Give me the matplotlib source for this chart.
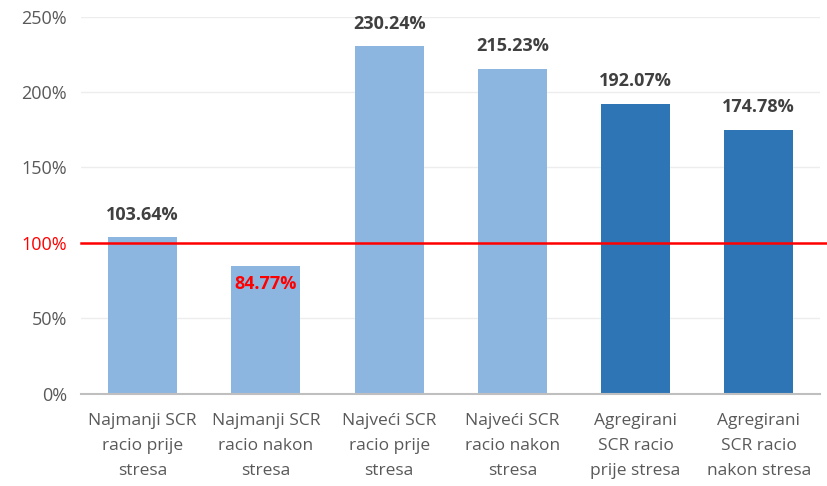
import matplotlib.pyplot as plt
import numpy as np

# Chart data
categories = ['Najmanji SCR\nracio prije\nstresa', 'Najmanji SCR\nracio nakon\nstresa',
              'Najveći SCR\nracio prije\nstresa', 'Najveći SCR\nracio nakon\nstresa',
              'Agregirani\nSCR racio\nprije stresa', 'Agregirani\nSCR racio\nnakon stresa']
values = [103.64, 84.77, 230.24, 215.23, 192.07, 174.78]
yticks = [0, 50, 100, 150, 200, 250]
threshold = 100

light = '#8CB6E0'
dark = '#2E75B6'
colors = [light, light, light, light, dark, dark]

plt.rcParams['font.family'] = ['Open Sans', 'DejaVu Sans']

fig = plt.figure(figsize=(8.27, 4.86), dpi=100)
ax = fig.add_axes([0.098, 0.19, 0.894, 0.776])

x = np.arange(len(values))
ax.bar(x, values, width=0.56, color=colors, zorder=2)

ax.set_xlim(-0.5, len(values) - 0.5)
ax.set_ylim(0, 250)
ax.set_yticks(yticks)
ax.set_yticklabels([f'{t}%' for t in yticks], fontsize=13, color='#595959')
ax.set_xticks(x)
ax.set_xticklabels(categories, fontsize=12.5, color='#595959', linespacing=1.75)
ax.tick_params(length=0, pad=10)
ax.tick_params(axis='x', pad=14)
ax.get_yticklabels()[2].set_color('red')

# faint gridlines
for t in yticks[1:]:
    if t != threshold:
        ax.axhline(t, color='#EDEDED', lw=1, zorder=0)

for s in ['top', 'right', 'left']:
    ax.spines[s].set_visible(False)
ax.spines['bottom'].set_color('#BFBFBF')
ax.spines['bottom'].set_linewidth(1.5)

# threshold line at 100%
ax.axhline(threshold, xmin=0, xmax=1.01, color='red', lw=1.8, zorder=3, clip_on=False)

# data labels
for xi, v in zip(x, values):
    if v < threshold:
        ax.text(xi, v - 12, f'{v:.2f}%', ha='center', va='center', fontsize=13,
                fontweight='bold', color='red', zorder=4)
    else:
        ax.text(xi, v + 15, f'{v:.2f}%', ha='center', va='center', fontsize=13,
                fontweight='bold', color='#404040', zorder=4)

plt.savefig('out.png')
plt.close()
